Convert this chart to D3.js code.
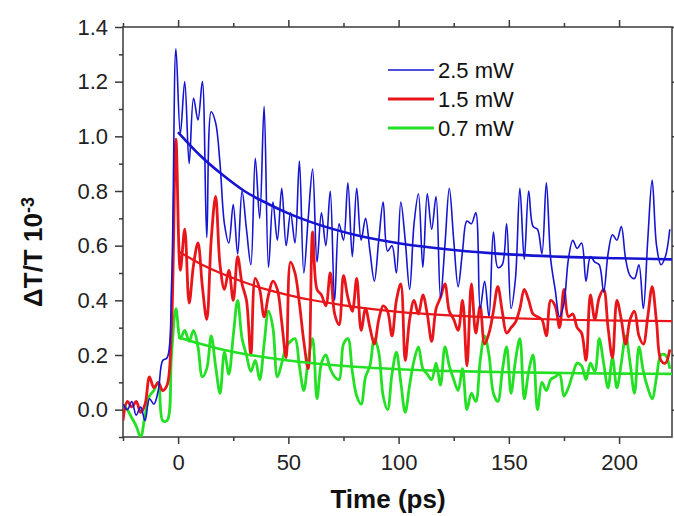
<!DOCTYPE html>
<html lang="en">
<head>
<meta charset="UTF-8" />
<title>ΔT/T transients</title>
<style>
  body { margin: 0; background: #fff; }
  #chart { display: block; font-family: "Liberation Sans", Arial, sans-serif; }
</style>
</head>
<body>
<svg id="chart" width="674" height="516"></svg>
<script src="https://cdn.jsdelivr.net/npm/d3@7/dist/d3.min.js"></script>
<script>
// delay times (ps)
const times = [
  -25, -23, -21, -19, -17, -15, -13, -11, -9, -7, -5, -3, -1,
  1, 3, 5, 7, 9, 11, 13, 15, 17, 19,
  21, 23, 25, 27, 29, 31, 33, 35, 37, 39,
  41, 43, 45, 47, 49, 51, 53, 55, 57, 59,
  61, 63, 65, 67, 69, 71, 73, 75, 77, 79,
  81, 83, 85, 87, 89, 91, 93, 95, 97, 99,
  101, 103, 105, 107, 109, 111, 113, 115, 117, 119,
  121, 123, 125, 127, 129, 131, 133, 135, 137, 139,
  141, 143, 145, 147, 149, 151, 153, 155, 157, 159,
  161, 163, 165, 167, 169, 171, 173, 175, 177, 179,
  181, 183, 185, 187, 189, 191, 193, 195, 197, 199,
  201, 203, 205, 207, 209, 211, 213, 215, 217, 219,
  221, 223
];

// 2.5 mW
const blueData = [
  0.02, 0.00, 0.03, -0.02, 0.01, -0.04, 0.04, 0.02, 0.07, 0.18, 0.19, 0.45, 1.32,
  1.01, 1.20, 0.90, 1.14, 1.06, 1.20, 0.63, 1.09, 1.05, 0.90,
  0.68, 0.61, 0.75, 0.57, 0.80, 0.66, 0.53, 0.92, 0.70, 1.11,
  0.52, 0.76, 0.62, 0.81, 0.60, 0.72, 0.61, 0.91, 0.50, 0.70,
  0.88, 0.54, 0.72, 0.60, 0.80, 0.40, 0.68, 0.62, 0.83, 0.56,
  0.81, 0.62, 0.70, 0.58, 0.47, 0.62, 0.76, 0.58, 0.60, 0.50,
  0.76, 0.62, 0.44, 0.68, 0.79, 0.52, 0.79, 0.66, 0.78, 0.41,
  0.60, 0.81, 0.62, 0.45, 0.58, 0.69, 0.68, 0.72, 0.37, 0.47,
  0.34, 0.65, 0.52, 0.53, 0.68, 0.37, 0.48, 0.81, 0.55, 0.80,
  0.67, 0.66, 0.57, 0.83, 0.55, 0.44, 0.34, 0.39, 0.55, 0.62,
  0.59, 0.61, 0.47, 0.56, 0.54, 0.53, 0.43, 0.57, 0.64, 0.62,
  0.67, 0.55, 0.49, 0.48, 0.53, 0.37, 0.62, 0.84, 0.60, 0.53,
  0.56, 0.66
];

// 1.5 mW
const redData = [
  -0.04, 0.03, 0.01, 0.03, -0.01, 0.02, 0.12, 0.08, 0.10, 0.07, 0.09, 0.30, 0.99,
  0.51, 0.66, 0.39, 0.53, 0.61, 0.45, 0.33, 0.62, 0.78, 0.53,
  0.44, 0.51, 0.40, 0.56, 0.46, 0.40, 0.20, 0.48, 0.44, 0.34,
  0.42, 0.47, 0.44, 0.32, 0.19, 0.54, 0.50, 0.39, 0.25, 0.15,
  0.65, 0.44, 0.42, 0.38, 0.50, 0.35, 0.31, 0.49, 0.41, 0.36,
  0.48, 0.29, 0.37, 0.30, 0.24, 0.33, 0.38, 0.36, 0.27, 0.40,
  0.46, 0.18, 0.33, 0.40, 0.35, 0.42, 0.35, 0.25, 0.37, 0.41,
  0.46, 0.36, 0.33, 0.29, 0.40, 0.16, 0.46, 0.28, 0.38, 0.24,
  0.28, 0.36, 0.45, 0.36, 0.28, 0.30, 0.32, 0.37, 0.44, 0.40,
  0.35, 0.34, 0.33, 0.27, 0.40, 0.38, 0.30, 0.44, 0.34, 0.35,
  0.30, 0.28, 0.18, 0.42, 0.33, 0.41, 0.44, 0.30, 0.19, 0.40,
  0.33, 0.24, 0.33, 0.36, 0.27, 0.24, 0.34, 0.45, 0.32, 0.18,
  0.17, 0.22
];

// 0.7 mW
const greenData = [
  0.02, 0.00, -0.03, -0.06, -0.10, -0.02, 0.05, 0.07, 0.10, -0.04, -0.04, 0.20, 0.37,
  0.26, 0.29, 0.25, 0.29, 0.23, 0.12, 0.15, 0.27, 0.16, 0.06,
  0.21, 0.13, 0.27, 0.40, 0.26, 0.20, 0.14, 0.18, 0.11, 0.24,
  0.36, 0.30, 0.12, 0.17, 0.23, 0.25, 0.26, 0.16, 0.07, 0.18,
  0.26, 0.04, 0.17, 0.20, 0.15, 0.12, 0.11, 0.24, 0.26, 0.14,
  0.05, 0.02, 0.12, 0.16, 0.26, 0.21, 0.05, 0.00, 0.13, 0.21,
  0.10, -0.01, 0.09, 0.18, 0.23, 0.15, 0.13, 0.11, 0.17, 0.09,
  0.23, 0.16, 0.11, 0.07, 0.15, 0.00, 0.06, 0.03, 0.18, 0.27,
  0.20, 0.06, 0.03, 0.14, 0.23, 0.06, 0.18, 0.26, 0.04, 0.14,
  0.20, 0.00, 0.10, 0.07, 0.11, 0.12, 0.13, 0.05, 0.08, 0.13,
  0.17, 0.16, 0.11, 0.17, 0.14, 0.26, 0.17, 0.08, 0.19, 0.08,
  0.17, 0.27, 0.17, 0.06, 0.23, 0.14, 0.08, 0.04, 0.12, 0.20,
  0.20, 0.15
];

// fitted decay curves
const fitTimes = [0, 10, 20, 30, 40, 50, 60, 80, 100, 125, 150, 175, 200, 224];
const blueFit  = [1.015, 0.93, 0.86, 0.80, 0.756, 0.718, 0.687, 0.64, 0.609, 0.584, 0.568, 0.559, 0.554, 0.55];
const redFit   = [0.58, 0.534, 0.497, 0.466, 0.44, 0.419, 0.402, 0.376, 0.358, 0.344, 0.335, 0.329, 0.326, 0.324];
const greenFit = [0.265, 0.241, 0.22, 0.204, 0.191, 0.18, 0.171, 0.157, 0.148, 0.141, 0.137, 0.134, 0.132, 0.131];

const legendLabels = ["2.5 mW", "1.5 mW", "0.7 mW"];
const xMajor = [0, 50, 100, 150, 200];
const xMinor = [-25, 25, 75, 125, 175];
const yMajor = [0.0, 0.2, 0.4, 0.6, 0.8, 1.0, 1.2, 1.4];
const yMinor = [-0.1, 0.1, 0.3, 0.5, 0.7, 0.9, 1.1, 1.3];

const colors = { blue: "#1414d2", red: "#e8161a", green: "#24e024" };

const svg = d3.select("#chart");
const pLeft = 123, pRight = 672, pTop = 27, pBottom = 437;

const x = d3.scaleLinear().domain([-25, 224]).range([pLeft, pRight]);
const y = d3.scaleLinear().domain([-0.1, 1.4]).range([pBottom, pTop]);

svg.append("defs").append("clipPath").attr("id", "plot")
  .append("rect").attr("x", pLeft).attr("y", pTop)
  .attr("width", pRight - pLeft).attr("height", pBottom - pTop);

// axes
const axisColor = "#3a3a3a";
function styleAxis(g) {
  g.select(".domain").remove();
  g.selectAll("line").attr("stroke", axisColor).attr("stroke-width", 1.5);
  g.selectAll("text").attr("fill", "#222").style("font-size", "22px")
    .style("font-family", '"Liberation Sans", Arial, sans-serif');
}

svg.append("g").attr("transform", `translate(0,${pBottom})`)
  .call(d3.axisBottom(x).tickValues(xMajor).tickSize(7).tickPadding(10).tickFormat(d3.format("d")))
  .call(styleAxis);
svg.append("g").attr("transform", `translate(0,${pBottom})`)
  .call(d3.axisBottom(x).tickValues(xMinor).tickSize(4).tickFormat(""))
  .call(styleAxis);
svg.append("g").attr("transform", `translate(0,${pTop})`)
  .call(d3.axisTop(x).tickValues(xMajor).tickSize(7).tickFormat(""))
  .call(styleAxis);
svg.append("g").attr("transform", `translate(0,${pTop})`)
  .call(d3.axisTop(x).tickValues(xMinor).tickSize(4).tickFormat(""))
  .call(styleAxis);

svg.append("g").attr("transform", `translate(${pLeft},0)`)
  .call(d3.axisLeft(y).tickValues(yMajor).tickSize(8).tickPadding(7).tickFormat(d3.format(".1f")))
  .call(styleAxis);
svg.append("g").attr("transform", `translate(${pLeft},0)`)
  .call(d3.axisLeft(y).tickValues(yMinor).tickSize(4).tickFormat(""))
  .call(styleAxis);
svg.append("g").attr("transform", `translate(${pRight},0)`)
  .call(d3.axisRight(y).tickValues(yMajor).tickSize(8).tickFormat(""))
  .call(styleAxis);

svg.append("rect")
  .attr("x", pLeft).attr("y", pTop)
  .attr("width", pRight - pLeft).attr("height", pBottom - pTop)
  .attr("fill", "none").attr("stroke", axisColor).attr("stroke-width", 1.5);

// data traces (the plotting program draws them as splines)
const plot = svg.append("g").attr("clip-path", "url(#plot)");
const line = d3.line().x(d => x(d[0])).y(d => y(d[1])).curve(d3.curveCatmullRom.alpha(0.5));
const smooth = d3.line().x(d => x(d[0])).y(d => y(d[1])).curve(d3.curveMonotoneX);

const traces = [
  { vals: greenData, color: colors.green, w: 2.8 },
  { vals: redData, color: colors.red, w: 2.8 },
  { vals: blueData, color: colors.blue, w: 1.6 }
];
traces.forEach(s => {
  plot.append("path")
    .datum(times.map((t, i) => [t, s.vals[i]]))
    .attr("d", line)
    .attr("fill", "none")
    .attr("stroke", s.color)
    .attr("stroke-width", s.w)
    .attr("stroke-linejoin", "round");
});

const fits = [
  { vals: greenFit, color: colors.green, w: 2.6 },
  { vals: redFit, color: colors.red, w: 2.2 },
  { vals: blueFit, color: colors.blue, w: 2.6 }
];
fits.forEach(s => {
  plot.append("path")
    .datum(fitTimes.map((t, i) => [t, s.vals[i]]))
    .attr("d", smooth)
    .attr("fill", "none")
    .attr("stroke", s.color)
    .attr("stroke-width", s.w);
});

// legend
const legend = svg.append("g");
const legendColors = [colors.blue, colors.red, colors.green];
const legendWidths = [1.5, 3, 3];
legendLabels.forEach((lab, i) => {
  const ly = 70 + i * 29;
  legend.append("line")
    .attr("x1", 388).attr("x2", 434).attr("y1", ly).attr("y2", ly)
    .attr("stroke", legendColors[i]).attr("stroke-width", legendWidths[i]);
  legend.append("text")
    .attr("x", 438).attr("y", ly).attr("dy", "0.36em")
    .attr("fill", "#111").style("font-size", "22px")
    .text(lab);
});

// axis titles
svg.append("text")
  .attr("x", 388).attr("y", 508)
  .attr("text-anchor", "middle")
  .style("font-size", "26px").style("font-weight", "bold")
  .attr("fill", "#111")
  .text("Time (ps)");

const yTitle = svg.append("text")
  .attr("transform", "translate(42,252) rotate(-90)")
  .attr("text-anchor", "middle")
  .style("font-size", "26px").style("font-weight", "bold")
  .attr("fill", "#111");
yTitle.append("tspan").text("ΔT/T 10");
yTitle.append("tspan").attr("dy", "-0.45em").style("font-size", "18px").text("-3");
</script>
</body>
</html>
